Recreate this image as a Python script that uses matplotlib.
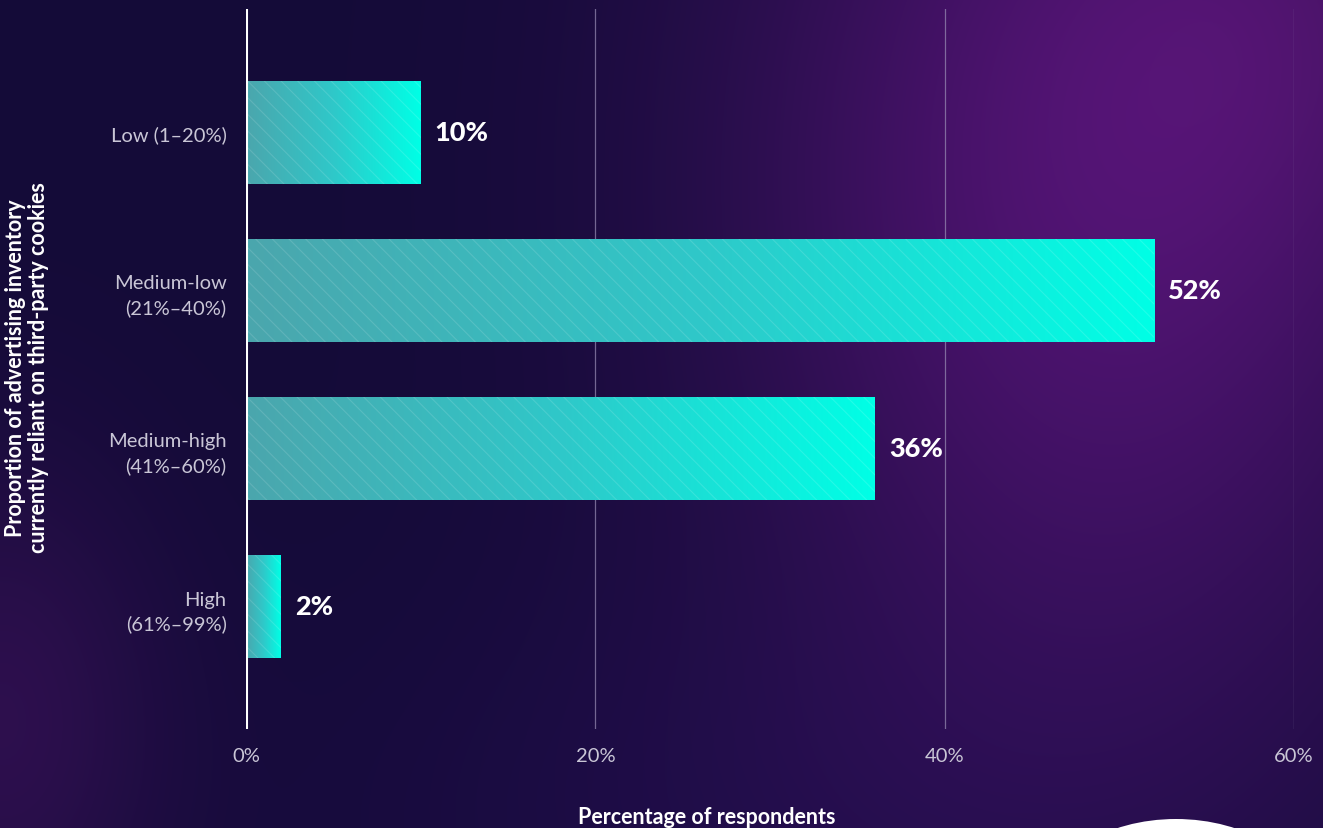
import numpy as np
import matplotlib.pyplot as plt
from matplotlib.colors import LinearSegmentedColormap
from matplotlib.patches import Ellipse

# data
categories = ['Low (1–20%)', 'Medium-low\n(21%–40%)', 'Medium-high\n(41%–60%)', 'High\n(61%–99%)']
values = [10, 52, 36, 2]
value_labels = ['10%', '52%', '36%', '2%']
xticks = [0, 20, 40, 60]
xtick_labels = ['0%', '20%', '40%', '60%']

plt.rcParams['font.family'] = ['Lato', 'DejaVu Sans']
plt.rcParams['hatch.linewidth'] = 0.8
plt.rcParams['hatch.color'] = (1, 1, 1, 0.13)

W, H = 1323, 829
fig = plt.figure(figsize=(W / 100, H / 100), dpi=100)

# background gradient
bg = fig.add_axes([0, 0, 1, 1], zorder=-10)
yy, xx = np.mgrid[0:H, 0:W]
base = np.array([0x14, 0x0b, 0x38]) / 255.0
img = np.ones((H, W, 3)) * base
def glow(cx, cy, rx, ry, col, strength):
    d = ((xx - cx) / rx) ** 2 + ((yy - cy) / ry) ** 2
    w = strength * np.exp(-d)
    return w[..., None] * (np.array(col) / 255.0 - base)
img += glow(1110, 180, 380, 560, (0x52, 0x14, 0x74), 0.95)
img += glow(1323, 0, 250, 250, (0x5a, 0x18, 0x6e), 0.25)
img += glow(0, 720, 160, 260, (0x33, 0x10, 0x52), 0.8)
img += glow(820, 829, 500, 250, (0x24, 0x0e, 0x52), 0.5)
bg.imshow(np.clip(img, 0, 1), aspect='auto', extent=[0, W, H, 0])
bg.set_xlim(0, W)
bg.set_ylim(H, 0)
bg.axis('off')
bg.add_patch(Ellipse((1176, 905), 260, 170, color='white', lw=0))

ax = fig.add_axes([246 / W, 1 - 730 / H, (1294 - 246) / W, 720 / H])
ax.patch.set_alpha(0)

cmap = LinearSegmentedColormap.from_list('bar', ['#4ba6ad', '#2fc8c9', '#00ffe6'])
grad = np.linspace(0, 1, 256).reshape(1, -1)
ypos = np.arange(len(categories))
bh = 0.652
for y, v, lab in zip(ypos, values, value_labels):
    im = ax.imshow(grad, cmap=cmap, aspect='auto',
                   extent=[0, v, y + bh / 2, y - bh / 2], zorder=2)
    b = ax.barh(y, v, height=bh, facecolor='none', edgecolor='none', zorder=3)
    im.set_clip_path(b[0])
    ax.barh(y, v, height=bh, facecolor='none', hatch='\\\\', linewidth=0, zorder=3)
    ax.text(v + 0.8, y, lab, color='white', fontsize=19.5, fontweight='black',
            va='center', ha='left', zorder=4)

ax.set_xlim(0, 60)
ax.set_ylim(3.775, -0.78)
ax.set_yticks(ypos)
ax.set_yticklabels(categories, color='#c9c6d6', fontsize=14.5, linespacing=1.45)
ax.set_xticks(xticks)
ax.set_xticklabels(xtick_labels, color='#c9c6d6', fontsize=14.5)
ax.tick_params(axis='y', length=0, pad=14)
ax.tick_params(axis='x', length=0, pad=13)
for s in ax.spines.values():
    s.set_visible(False)
for x in xticks[1:]:
    ax.axvline(x, color='#9a8fb6', lw=0.9, alpha=0.7, zorder=1)
ax.axvline(0, color='white', lw=2.2, zorder=5)

fig.text(27 / W, 1 - 368 / H,
         'Proportion of advertising inventory\ncurrently reliant on third-party cookies',
         rotation=90, ha='center', va='center', color='white', fontsize=15.5,
         fontweight='bold', linespacing=1.1)
fig.text(707 / W, 1 - 818 / H, 'Percentage of respondents', ha='center', va='center',
         color='white', fontsize=15.5, fontweight='bold')

fig.savefig('out.png', dpi=100)
